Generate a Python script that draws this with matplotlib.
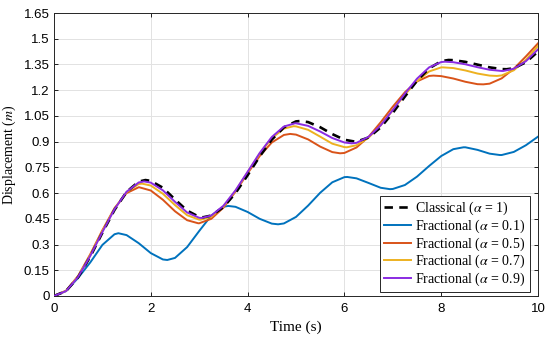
import matplotlib
matplotlib.use("Agg")
import matplotlib.pyplot as plt

t = [0.0, 0.25, 0.5, 0.75, 1.0, 1.25, 1.5, 1.75, 2.0, 2.25, 2.5, 2.75, 3.0, 3.25, 3.5,
     3.75, 4.0, 4.25, 4.5, 4.75, 5.0, 5.25, 5.5, 5.75, 6.0, 6.25, 6.5, 6.75, 7.0, 7.25,
     7.5, 7.75, 8.0, 8.25, 8.5, 8.75, 9.0, 9.25, 9.5, 9.75, 10.0]

classical = [0.000, 0.029, 0.110, 0.230, 0.369, 0.502, 0.607, 0.667, 0.671, 0.631, 0.563,
             0.498, 0.461, 0.469, 0.518, 0.600, 0.704, 0.814, 0.912, 0.983, 1.018, 1.014,
             0.984, 0.944, 0.911, 0.900, 0.924, 0.983, 1.068, 1.163, 1.255, 1.327, 1.369,
             1.375, 1.365, 1.349, 1.333, 1.323, 1.328, 1.363, 1.425]

frac_01 = [0.000, 0.029, 0.106, 0.196, 0.298, 0.360, 0.355, 0.308, 0.250, 0.213, 0.222,
           0.285, 0.379, 0.469, 0.520, 0.520, 0.490, 0.450, 0.422, 0.423, 0.461, 0.527,
           0.602, 0.663, 0.693, 0.686, 0.659, 0.631, 0.624, 0.647, 0.696, 0.758, 0.816,
           0.856, 0.867, 0.852, 0.830, 0.822, 0.840, 0.879, 0.929]

frac_05 = [0.000, 0.031, 0.118, 0.244, 0.384, 0.512, 0.600, 0.634, 0.615, 0.561, 0.494,
           0.442, 0.424, 0.450, 0.515, 0.608, 0.715, 0.816, 0.895, 0.939, 0.941, 0.913,
           0.871, 0.839, 0.834, 0.866, 0.928, 1.013, 1.104, 1.188, 1.251, 1.283, 1.282,
           1.268, 1.249, 1.235, 1.238, 1.269, 1.325, 1.397, 1.473]

frac_07 = [0.000, 0.030, 0.115, 0.238, 0.378, 0.509, 0.606, 0.653, 0.644, 0.596, 0.530,
           0.471, 0.445, 0.462, 0.522, 0.613, 0.722, 0.830, 0.920, 0.976, 0.989, 0.969,
           0.929, 0.888, 0.868, 0.879, 0.923, 0.995, 1.083, 1.174, 1.253, 1.309, 1.333,
           1.329, 1.315, 1.297, 1.285, 1.286, 1.316, 1.377, 1.458]

frac_09 = [0.000, 0.029, 0.112, 0.234, 0.373, 0.506, 0.608, 0.662, 0.661, 0.616, 0.549,
           0.487, 0.456, 0.469, 0.526, 0.616, 0.724, 0.834, 0.927, 0.988, 1.007, 0.992,
           0.959, 0.921, 0.895, 0.893, 0.928, 0.995, 1.084, 1.180, 1.267, 1.333, 1.364,
           1.363, 1.351, 1.334, 1.319, 1.312, 1.325, 1.369, 1.438]

# peaks and troughs (time, displacement)
ext_t_classical = [1.89, 3.08, 5.08, 6.22, 8.15, 9.35]
ext_v_classical = [0.676, 0.459, 1.020, 0.900, 1.376, 1.322]
ext_t_01 = [1.33, 2.34, 3.60, 4.63, 6.06, 6.94, 8.46, 9.21]
ext_v_01 = [0.366, 0.210, 0.525, 0.418, 0.694, 0.623, 0.867, 0.822]
ext_t_05 = [1.76, 2.98, 4.88, 5.91, 7.84, 8.87]
ext_v_05 = [0.634, 0.424, 0.945, 0.832, 1.285, 1.234]
ext_t_07 = [1.82, 3.03, 4.95, 6.05, 8.04, 9.15]
ext_v_07 = [0.655, 0.445, 0.990, 0.867, 1.333, 1.283]
ext_t_09 = [1.86, 3.05, 4.98, 6.15, 8.08, 9.28]
ext_v_09 = [0.668, 0.455, 1.007, 0.890, 1.366, 1.312]

xticks = [0, 2, 4, 6, 8, 10]
yticks = [0, 0.15, 0.3, 0.45, 0.6, 0.75, 0.9, 1.05, 1.2, 1.35, 1.5, 1.65]
ytick_labels = ["0", "0.15", "0.3", "0.45", "0.6", "0.75", "0.9", "1.05", "1.2", "1.35", "1.5", "1.65"]


def merged(tg, vg, te, ve):
    pts = {}
    for a, b in zip(tg, vg):
        pts[a] = b
    for a, b in zip(te, ve):
        pts[a] = b
    ks = sorted(pts)
    return ks, [pts[k] for k in ks]


plt.rcParams['mathtext.fontset'] = 'stix'

fig = plt.figure(figsize=(5.5, 3.39), dpi=100)
ax = fig.add_axes([54/550, 1-296/339, 484/550, 283/339])

lw = 1.4
x, y = merged(t, frac_01, ext_t_01, ext_v_01)
ax.plot(x, y, color='#0072BD', lw=lw, label=r'Fractional ($\alpha$ = 0.1)', zorder=3)
x, y = merged(t, frac_05, ext_t_05, ext_v_05)
ax.plot(x, y, color='#D95319', lw=lw, label=r'Fractional ($\alpha$ = 0.5)', zorder=3)
x, y = merged(t, frac_07, ext_t_07, ext_v_07)
ax.plot(x, y, color='#EDB120', lw=lw, label=r'Fractional ($\alpha$ = 0.7)', zorder=3)
x, y = merged(t, classical, ext_t_classical, ext_v_classical)
ax.plot(x, y, color='black', lw=1.9, ls=(0, (3.2, 2.4)), label=r'Classical ($\alpha$ = 1)', zorder=4)
x, y = merged(t, frac_09, ext_t_09, ext_v_09)
ax.plot(x, y, color='#8A2BE2', lw=lw, label=r'Fractional ($\alpha$ = 0.9)', zorder=5)

ax.set_xlim(0, 10)
ax.set_ylim(0, 1.65)
ax.set_xticks(xticks)
ax.set_xticklabels([str(v) for v in xticks], family='Liberation Sans', fontsize=9.5)
ax.set_yticks(yticks)
ax.set_yticklabels(ytick_labels, family='Liberation Sans', fontsize=9.5)
ax.tick_params(direction='in', length=3, width=0.6, top=True, right=True)
ax.tick_params(axis='x', pad=5)
ax.tick_params(axis='y', pad=3)
ax.grid(True, color='#e2e2e2', lw=0.7)
ax.set_axisbelow(True)
for s in ax.spines.values():
    s.set_linewidth(0.7)
    s.set_color('#262626')

ax.set_xlabel('Time (s)', family='Liberation Serif', fontsize=11, labelpad=4)
ax.set_ylabel(r'Displacement ($m$)', family='Liberation Serif', fontsize=10, labelpad=4)

handles, labels = ax.get_legend_handles_labels()
order = [3, 0, 1, 2, 4]
leg = ax.legend([handles[i] for i in order], [labels[i] for i in order],
                loc='lower right', bbox_to_anchor=(0.983, 0.014), borderaxespad=0,
                fancybox=False, edgecolor='#262626', framealpha=1,
                prop={'family': 'Liberation Serif', 'size': 10},
                handlelength=1.9, handletextpad=0.35, labelspacing=0.02,
                borderpad=0.3)
leg.get_frame().set_linewidth(0.7)

fig.savefig('out.png', dpi=100)
